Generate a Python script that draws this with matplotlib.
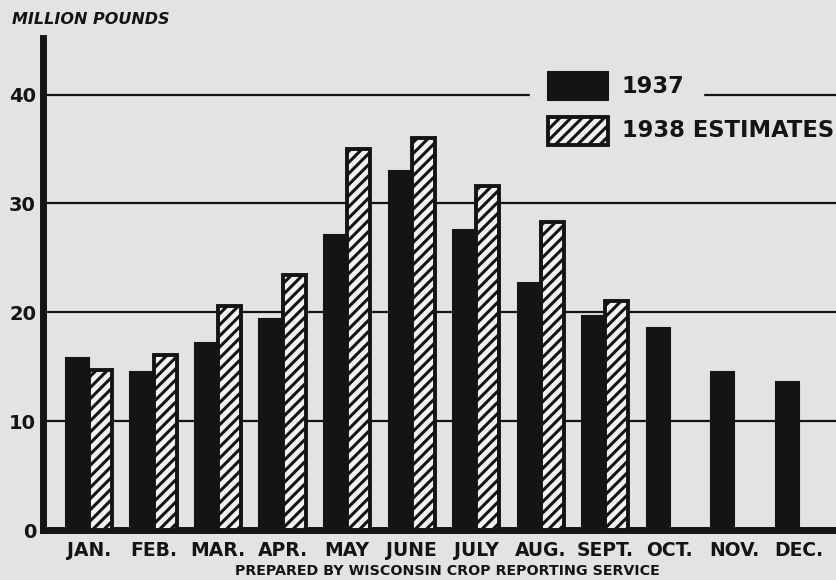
import numpy as np
import matplotlib
matplotlib.use("Agg")
import matplotlib.pyplot as plt
from matplotlib.patches import Rectangle

months = ["JAN.", "FEB.", "MAR.", "APR.", "MAY", "JUNE", "JULY",
          "AUG.", "SEPT.", "OCT.", "NOV.", "DEC."]
vals_1937 = [15.8, 14.5, 17.2, 19.4, 27.1, 33.0, 27.6, 22.7, 19.7, 18.6, 14.5, 13.6]
vals_1938 = [14.7, 16.1, 20.6, 23.4, 35.0, 36.0, 31.6, 28.3, 21.0]
yticks = [0, 10, 20, 30, 40]

paper = "#e3e3e1"
ink = "#141414"

plt.rcParams["font.family"] = ["DejaVu Sans"]
plt.rcParams["hatch.linewidth"] = 2.2
plt.rcParams["hatch.color"] = ink

fig = plt.figure(figsize=(8.36, 5.8), dpi=100, facecolor=paper)
ax = fig.add_axes([43 / 836, 1 - 530 / 580, 1 - 43 / 836, (530 - 38) / 580])
ax.set_facecolor(paper)

x = np.arange(len(months))
w = 0.357
ax.bar(x - w / 2, vals_1937, width=w, color=ink, edgecolor=ink, linewidth=1.5, zorder=3)
ax.bar(x[:len(vals_1938)] + w / 2, vals_1938, width=w, color="#f2f2f0", edgecolor=ink,
       hatch="///", linewidth=2.8, zorder=3)

for y in yticks[1:]:
    ax.axhline(y, color=ink, lw=1.6, zorder=1)

ax.set_xlim(-0.713, 11.58)
ax.set_ylim(0, 45.2)
for s in ["top", "right"]:
    ax.spines[s].set_visible(False)
ax.spines["left"].set_linewidth(5)
ax.spines["bottom"].set_linewidth(5)
ax.spines["left"].set_color(ink)
ax.spines["bottom"].set_color(ink)

ax.set_xticks(x)
ax.set_xticklabels(months, fontsize=13.5, fontweight="bold", color=ink)
ax.set_yticks(yticks)
ax.set_yticklabels([str(v) for v in yticks], fontsize=14, fontweight="bold", color=ink)
ax.tick_params(axis="both", length=0)
ax.tick_params(axis="x", pad=8)
ax.tick_params(axis="y", pad=5)

# legend drawn by hand so the 40 line shows right of it
ax.add_patch(Rectangle((0.614, 0.86), 0.218, 0.07, transform=ax.transAxes,
                       color=paper, zorder=2))
ax.add_patch(Rectangle((0.637, 0.874), 0.0757, 0.057, transform=ax.transAxes,
                       facecolor=ink, edgecolor=ink, lw=1.5, zorder=4))
ax.add_patch(Rectangle((0.637, 0.783), 0.0757, 0.057, transform=ax.transAxes,
                       facecolor="#f2f2f0", edgecolor=ink, hatch="///", lw=2.8, zorder=4))
ax.text(0.730, 0.9024, "1937", transform=ax.transAxes, fontsize=16.3, fontweight="bold",
        va="center", ha="left", color=ink, zorder=5)
ax.text(0.730, 0.811, "1938 ESTIMATES", transform=ax.transAxes, fontsize=16.3,
        fontweight="bold", va="center", ha="left", color=ink, zorder=5)

fig.text(0.014, 1 - 20 / 580, "MILLION POUNDS", fontsize=11.5, fontweight="bold",
         fontstyle="italic", va="center", ha="left", color=ink)
fig.text(0.535, 1 - 571 / 580, "PREPARED BY WISCONSIN CROP REPORTING SERVICE",
         fontsize=10.3, fontweight="bold", va="center", ha="center", color=ink)

fig.savefig("out.png", dpi=100, facecolor=paper)
